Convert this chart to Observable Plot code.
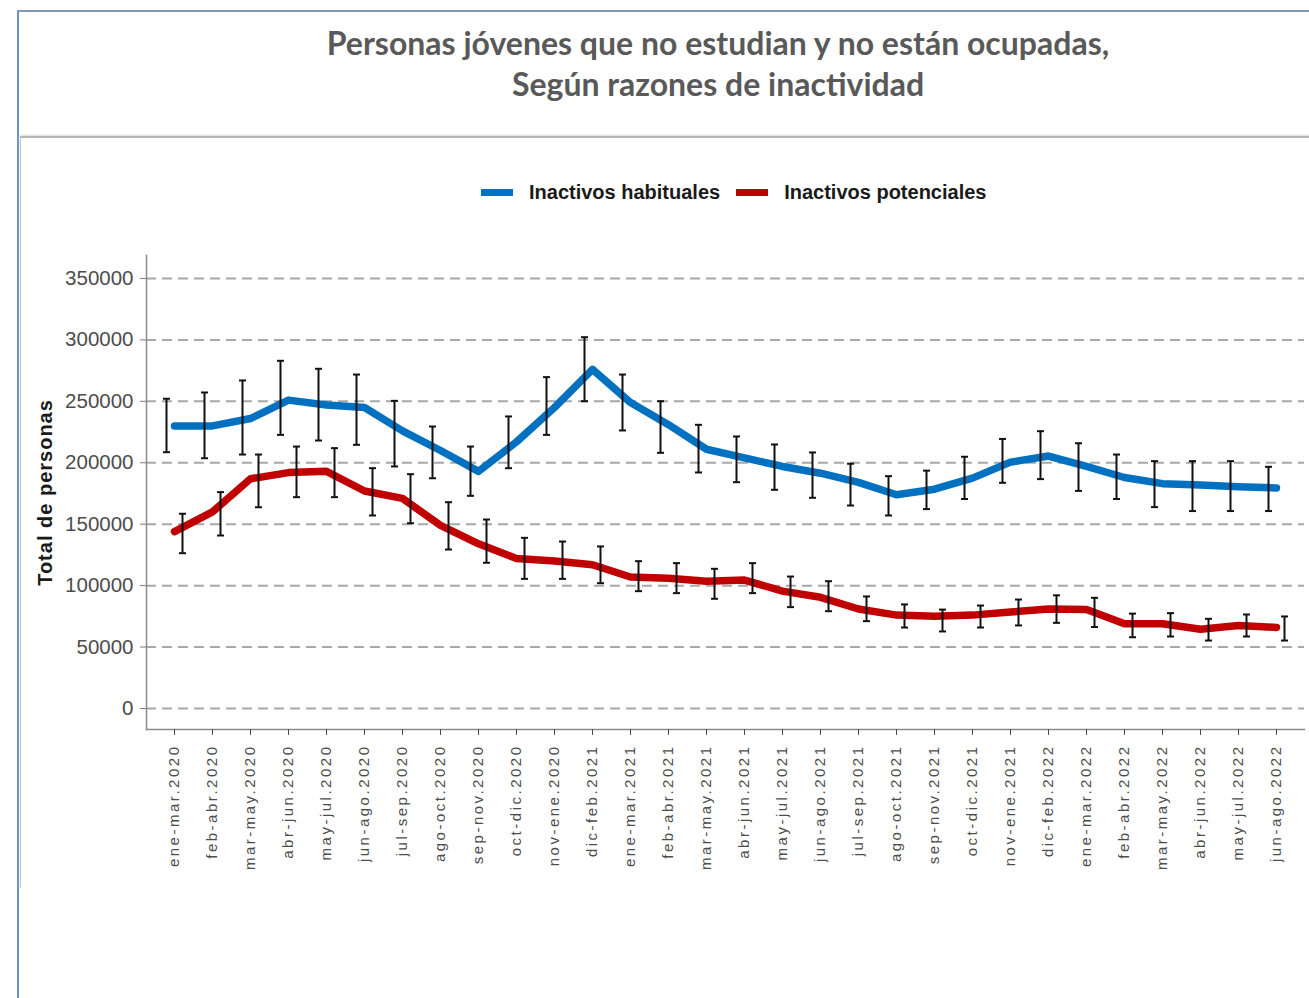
<!DOCTYPE html>
<html>
<head>
<meta charset="utf-8">
<script src="https://cdn.jsdelivr.net/npm/d3@7"></script>
<script src="https://cdn.jsdelivr.net/npm/@observablehq/plot@0.6"></script>
<style>
  html, body { margin: 0; padding: 0; background: #fff; }
  body { width: 1309px; height: 998px; position: relative; overflow: hidden; font-family: "Liberation Sans", Arial, sans-serif; }
  #outer { position: absolute; left: 17px; top: 10px; width: 1300px; height: 1000px; border-top: 2px solid #8397b6; border-left: 2px solid #6f8fc8; box-sizing: border-box; }
  #inner { position: absolute; left: 20px; top: 136px; width: 1300px; height: 752px; border-top: 2px solid #b5b5b5; border-left: 1px solid #c4c4c4; box-sizing: border-box; box-shadow: 0 -1px 2px #d9d9d9; }
  #title { position: absolute; left: 218px; width: 1000px; top: 22px; text-align: center; font-family: Lato, "Open Sans", sans-serif; font-weight: bold; font-size: 32px; line-height: 41px; color: #595959; }
  #legend { position: absolute; top: 181px; left: 481px; display: flex; align-items: center; font-weight: bold; font-size: 20px; color: #1a1a1a; white-space: nowrap; }
  #legend .sw { display: inline-block; width: 32px; height: 7px; margin-right: 16px; }
  #legend .item { display: flex; align-items: center; margin-right: 16px; }
  #chart { position: absolute; left: 20px; top: 136px; }
  #chart svg [aria-label="x-axis tick label"] text { letter-spacing: 2.5px; }
  #chart svg g[aria-label="text"] text { letter-spacing: 1px; }
</style>
</head>
<body>
<div id="outer"></div>
<div id="inner"></div>
<div id="title">Personas jóvenes que no estudian y no están ocupadas,<br>Según razones de inactividad</div>
<div id="legend"></div>
<div id="chart"></div>
<script>
const periods = ["ene-mar.2020","feb-abr.2020","mar-may.2020","abr-jun.2020","may-jul.2020","jun-ago.2020","jul-sep.2020","ago-oct.2020","sep-nov.2020","oct-dic.2020","nov-ene.2020","dic-feb.2021","ene-mar.2021","feb-abr.2021","mar-may.2021","abr-jun.2021","may-jul.2021","jun-ago.2021","jul-sep.2021","ago-oct.2021","sep-nov.2021","oct-dic.2021","nov-ene.2021","dic-feb.2022","ene-mar.2022","feb-abr.2022","mar-may.2022","abr-jun.2022","may-jul.2022","jun-ago.2022"];

const seriesNames = ["Inactivos habituales", "Inactivos potenciales"];
const seriesColors = ["#0070c0", "#c00000"];

const habituales     = [230000,230000,236000,251000,247000,245000,226000,210000,193000,217000,245000,276000,249000,231000,211000,204000,197000,191500,184000,174000,178500,187500,200500,205500,197000,188000,183000,182000,180500,179500];
const habitualesLow  = [208600,203700,206700,222700,218100,214600,197000,187400,173100,195600,222700,250100,226300,208100,192100,184200,178000,171500,165200,157100,162300,170500,183700,186700,177100,170500,163900,160700,160700,160700];
const habitualesHigh = [252100,257200,267000,283000,276500,271800,250400,229500,213200,237700,269700,302200,271800,250100,230900,221400,214900,208400,199200,189100,193600,204900,219400,225700,215900,206700,201300,201300,201300,196700];

const potenciales     = [144000,160000,187000,192000,193000,177000,171000,149000,134000,122000,120000,117000,107000,106000,103500,104500,95500,90500,81000,76000,75000,76000,78500,81000,80500,69000,69000,64500,67500,66000];
const potencialesLow  = [126400,140800,163800,172000,172000,157100,150800,129400,118600,105500,105500,102000,95500,93900,89300,93900,82500,79200,71100,65900,62700,65900,67600,69700,66300,58000,58600,55300,58600,55300];
const potencialesHigh = [158500,176100,206700,213200,211900,195600,190700,167900,153800,138900,135900,131900,119900,118300,113700,118300,107400,103600,91200,84700,80500,83800,88700,92100,90100,77200,77600,73000,76500,74900];

const yTicks = [0, 50000, 100000, 150000, 200000, 250000, 300000, 350000];
const yTitle = "Total de personas";

const hab = periods.map((p, i) => ({periodo: p, valor: habituales[i], low: habitualesLow[i], high: habitualesHigh[i]}));
const pot = periods.map((p, i) => ({periodo: p, valor: potenciales[i], low: potencialesLow[i], high: potencialesHigh[i]}));

// legend
const legend = document.getElementById("legend");
seriesNames.forEach((n, i) => {
  const it = document.createElement("div");
  it.className = "item";
  it.innerHTML = `<span class="sw" style="background:${seriesColors[i]}"></span><span>${n}</span>`;
  legend.appendChild(it);
});

// horizontal cap symbol for the error bars
const capSymbol = {
  draw(context, size) {
    const r = Math.sqrt(size / Math.PI);
    context.moveTo(-r, 0);
    context.lineTo(r, 0);
  }
};

const errMarks = (data, off) => [
  Plot.ruleX(data, {x: "periodo", y1: "low", y2: "high", stroke: "#111", strokeWidth: 2, dx: off}),
  Plot.dot(data, {x: "periodo", y: "low", symbol: capSymbol, r: 3.5, stroke: "#111", fill: "none", strokeWidth: 2, dx: off}),
  Plot.dot(data, {x: "periodo", y: "high", symbol: capSymbol, r: 3.5, stroke: "#111", fill: "none", strokeWidth: 2, dx: off})
];

const chart = Plot.plot({
  width: 1289,
  height: 752,
  marginLeft: 126,
  marginRight: 5,
  marginTop: 119,
  marginBottom: 159,
  style: {fontFamily: "'Liberation Sans', Arial, sans-serif", background: "transparent"},
  x: {type: "point", domain: periods, padding: 0.6, label: null},
  y: {domain: [-17100, 368700], label: null},
  marks: [
    Plot.ruleY(yTicks, {stroke: "#a8a8a8", strokeWidth: 2, strokeDasharray: "10,6"}),
    Plot.frame({anchor: "left", stroke: "#8c8c8c", strokeWidth: 1.5}),
    Plot.frame({anchor: "bottom", stroke: "#8c8c8c", strokeWidth: 1.5}),
    Plot.axisY({ticks: yTicks, tickFormat: d => String(d), tickSize: 6, tickPadding: 7, fontSize: 20.5, fill: "#4d4d4d", stroke: "#7a7a7a", label: null}),
    Plot.axisX({tickSize: 6, tickRotate: -90, tickPadding: 9, fontSize: 15, fill: "#4d4d4d", stroke: "#4d4d4d", label: null, dx: 0}),
    Plot.text([yTitle], {frameAnchor: "left", textAnchor: "middle", rotate: -90, dx: -101, fontSize: 20, fontWeight: "bold", fill: "#1a1a1a"}),
    Plot.line(hab, {x: "periodo", y: "valor", stroke: seriesColors[0], strokeWidth: 7.5, strokeLinejoin: "round"}),
    Plot.line(pot, {x: "periodo", y: "valor", stroke: seriesColors[1], strokeWidth: 7.5, strokeLinejoin: "round"}),
    ...errMarks(hab, -8),
    ...errMarks(pot, 8)
  ]
});
document.getElementById("chart").appendChild(chart);
</script>
</body>
</html>
